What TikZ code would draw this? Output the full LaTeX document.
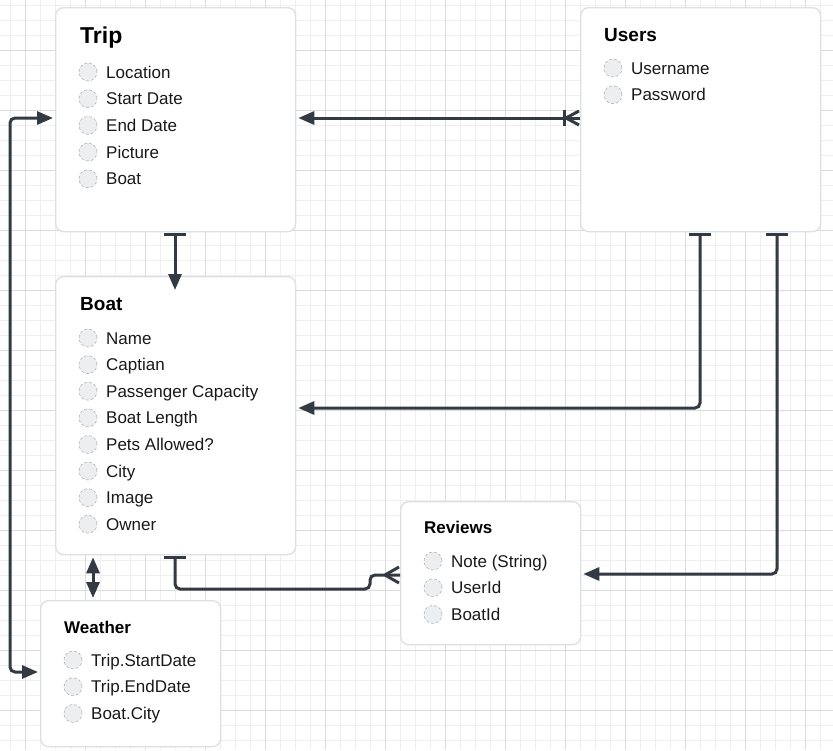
\documentclass[tikz,border=0pt]{standalone}
\usepackage{fontspec}
\setmainfont{Liberation Sans}
\usetikzlibrary{arrows.meta,calc}
\definecolor{conncol}{HTML}{343A43}
\definecolor{boxborder}{HTML}{DCDFE3}
\definecolor{gridminor}{HTML}{EFEFEF}
\definecolor{gridmajor}{HTML}{DCDCDC}
\definecolor{dotfill}{HTML}{EDEEF0}
\definecolor{dotline}{HTML}{B3B6BA}
\tikzset{
  box/.style={draw=boxborder, fill=white, line width=1.3pt, rounded corners=8pt, anchor=north west, inner sep=0pt},
  dotc/.style={circle, minimum size=18pt, inner sep=0pt, fill=dotfill, draw=dotline, densely dashed, line width=0.6pt},
  item/.style={anchor=base west, inner sep=0pt, font=\fontsize{17}{19}\selectfont, text=black!90},
  ttl/.style={anchor=base west, inner sep=0pt, font=\bfseries, text=black},
  conn/.style={draw=conncol, line width=3pt, rounded corners=5pt},
  crow/.style={draw=conncol, line width=3pt},
  tip/.tip={Triangle[length=16pt,width=13pt]}
}
\begin{document}
\begin{tikzpicture}[x=1pt,y=-1pt]
\useasboundingbox (0,0) rectangle (833,750);
\fill[white] (0,0) rectangle (833,750);
\foreach \x in {10,25,...,830} \draw[gridminor, line width=1pt] (\x,0) -- (\x,750);
\foreach \y in {5,20,...,749} \draw[gridminor, line width=1pt] (0,\y) -- (833,\y);
\foreach \x in {25,85,...,805} \draw[gridmajor, line width=1pt] (\x,0) -- (\x,750);
\foreach \y in {50,110,...,710} \draw[gridmajor, line width=1pt] (0,\y) -- (833,\y);

% boxes
\node[box, minimum width=240pt, minimum height=224pt] (trip) at (55,7) {};
\node[box, minimum width=240pt, minimum height=224pt] (users) at (580,7) {};
\node[box, minimum width=240pt, minimum height=278pt] (boat) at (55,276) {};
\node[box, minimum width=180pt, minimum height=146pt] (weather) at (40,600) {};
\node[box, minimum width=180pt, minimum height=143pt] (reviews) at (400,501) {};

% titles
\node[ttl, font=\bfseries\fontsize{23}{26}\selectfont] (triptitle) at (80,43) {Trip};
\node[ttl, font=\bfseries\fontsize{19}{22}\selectfont] (userstitle) at (604,41) {Users};
\node[ttl, font=\bfseries\fontsize{19}{22}\selectfont] (boattitle) at (80,310) {Boat};
\node[ttl, font=\bfseries\fontsize{17}{20}\selectfont] (reviewstitle) at (424,533) {Reviews};
\node[ttl, font=\bfseries\fontsize{17}{20}\selectfont] (weathertitle) at (64,633) {Weather};

% items
\foreach \t [count=\i] in {Location, Start Date, End Date, Picture, Boat} {
  \node[dotc] (tripdot\i) at (88,{72+26.7*(\i-1)}) {};
  \node[item] (tripitem\i) at (106,{78+26.7*(\i-1)}) {\t};
}
\foreach \t [count=\i] in {Username, Password} {
  \node[dotc] (usersdot\i) at (613,{68+26.7*(\i-1)}) {};
  \node[item] (usersitem\i) at (631,{74+26.7*(\i-1)}) {\t};
}
\foreach \t [count=\i] in {Name, Captian, Passenger Capacity, Boat Length, Pets Allowed?, City, Image, Owner} {
  \node[dotc] (boatdot\i) at (88,{338+26.6*(\i-1)}) {};
  \node[item] (boatitem\i) at (106,{344+26.6*(\i-1)}) {\t};
}
\foreach \t [count=\i] in {Note (String), UserId, BoatId} {
  \node[dotc] (reviewsdot\i) at (433,{561+26.7*(\i-1)}) {};
  \node[item] (reviewsitem\i) at (451,{567+26.7*(\i-1)}) {\t};
}
\foreach \t [count=\i] in {Trip.StartDate, Trip.EndDate, Boat.City} {
  \node[dotc] (weatherdot\i) at (73,{660+26.7*(\i-1)}) {};
  \node[item] (weatheritem\i) at (91,{666+26.7*(\i-1)}) {\t};
}

% 1: Users -> Trip
\draw[conn,-{tip}] ($(users.north west)+(0,111)$) -- ($(trip.north east)+(2,111)$);
\draw[crow] ($(users.north west)+(-16,103)$) -- ($(users.north west)+(-16,119)$);
\draw[crow] ($(users.north west)+(-14,111)$) -- ($(users.north west)+(-1,104)$);
\draw[crow] ($(users.north west)+(-14,111)$) -- ($(users.north west)+(-1,118)$);

% 2: Trip -> Boat
\draw[conn,-{tip}] ($(trip.south west)+(120,1)$) -- ($(boat.north west)+(120,14)$);
\draw[crow] ($(trip.south west)+(109,2)$) -- ($(trip.south west)+(131,2)$);

% 3: Users -> Boat
\draw[conn,-{tip}] ($(users.south west)+(120,1)$) |- ($(boat.north east)+(2,132)$);
\draw[crow] ($(users.south west)+(109,2)$) -- ($(users.south west)+(131,2)$);

% 4: Users -> Reviews
\draw[conn,-{tip}] ($(users.south west)+(197,1)$) |- ($(reviews.north east)+(2,73)$);
\draw[crow] ($(users.south west)+(186,2)$) -- ($(users.south west)+(208,2)$);

% 5: Boat -> Reviews
\draw[conn] ($(boat.south west)+(120,1)$) |- ($(reviews.north west)+(-30,88)$) |- ($(reviews.north west)+(0,74)$);
\draw[crow] ($(boat.south west)+(109,2)$) -- ($(boat.south west)+(131,2)$);
\draw[crow] ($(reviews.north west)+(-15,74)$) -- ($(reviews.north west)+(-1,66)$);
\draw[crow] ($(reviews.north west)+(-15,74)$) -- ($(reviews.north west)+(-1,82)$);

% 6: Boat <-> Weather
\draw[conn,{tip}-{tip}] ($(boat.south west)+(38,2)$) -- ($(weather.north west)+(53,-2)$);

% 7: Trip <-> Weather
\draw[conn,{tip}-{tip}] ($(trip.north west)+(-2,111)$) -| ($(weather.north west)+(-30,72)$) -- ($(weather.north west)+(-2,72)$);
\end{tikzpicture}
\end{document}
